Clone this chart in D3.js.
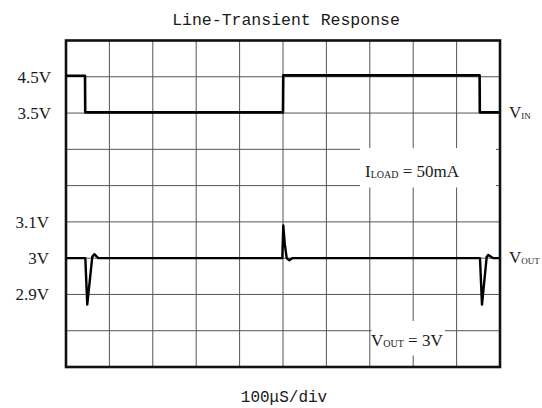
<!DOCTYPE html>
<html>
<head>
<meta charset="utf-8">
<script src="https://cdn.jsdelivr.net/npm/d3@7"></script>
<style>
  html, body { margin: 0; padding: 0; background: #fff; }
  svg { display: block; }
  .serif { font-family: "Liberation Serif", "DejaVu Serif", serif; fill: #1a1a1a; }
  .mono { font-family: "Liberation Mono", "DejaVu Sans Mono", monospace; fill: #1a1a1a; }
</style>
</head>
<body>
<div id="chart"></div>
<script>
// time in microseconds, 100us per division
const timeTicks = [0, 100, 200, 300, 400, 500, 600, 700, 800, 900, 1000];
const rowTicks = [0, 1, 2, 3, 4, 5, 6, 7, 8, 9];

// input voltage trace (V)
const vinTime  = [0, 43.8, 44.3, 500, 500.6, 953, 953.5, 1000];
const vinVolts = [4.53, 4.53, 3.52, 3.52, 4.54, 4.54, 3.52, 3.52];

// output voltage trace (V)
const voutTime  = [0, 44.5, 49, 60.6, 65.2, 74.4, 498.4, 500.7, 504, 508.5, 514.5, 521.4, 953.9, 958.5, 969.4, 973, 984.5, 1000];
const voutVolts = [3, 3, 2.872, 3.004, 3.011, 3, 3, 3.09, 3.04, 3, 2.994, 3, 3, 2.872, 3.004, 3.009, 3, 3];

// tick labels on the left
const vinTicks = [4.5, 3.5];
const vinTickLabels = ["4.5V", "3.5V"];
const voutTicks = [3.1, 3.0, 2.9];
const voutTickLabels = ["3.1V", "3V", "2.9V"];

document.addEventListener('DOMContentLoaded', () => {
  const W = 542, H = 408;
  const margin = {top: 40.5, left: 66, right: 42, bottom: 41};
  const w = W - margin.left - margin.right;
  const h = H - margin.top - margin.bottom;

  const svg = d3.select("#chart")
    .append("svg")
    .attr("width", W)
    .attr("height", H);

  // scales: both traces share the same 9-row grid
  const x = d3.scaleLinear().domain([0, 1000]).range([margin.left, margin.left + w]);
  const row = d3.scaleLinear().domain([0, 9]).range([margin.top, margin.top + h]);
  const yIn = d3.scaleLinear().domain([5.5, -3.5]).range([margin.top, margin.top + h]);
  const yOut = d3.scaleLinear().domain([3.6, 2.7]).range([margin.top, margin.top + h]);

  // grid
  const grid = svg.append("g").attr("stroke", "#555").attr("stroke-width", 1);
  grid.selectAll("line.v")
    .data(timeTicks.slice(1, -1))
    .enter().append("line")
    .attr("class", "v")
    .attr("x1", d => x(d)).attr("x2", d => x(d))
    .attr("y1", margin.top).attr("y2", margin.top + h);
  grid.selectAll("line.h")
    .data(rowTicks.slice(1))
    .enter().append("line")
    .attr("class", "h")
    .attr("x1", margin.left).attr("x2", margin.left + w)
    .attr("y1", d => row(d)).attr("y2", d => row(d));

  // white boxes behind the annotations
  svg.append("rect")
    .attr("x", 360).attr("y", 148)
    .attr("width", 136).attr("height", 39.5)
    .attr("fill", "#fff");
  svg.append("rect")
    .attr("x", 371.5).attr("y", 321)
    .attr("width", 73.5).attr("height", 34.5)
    .attr("fill", "#fff");

  // frame
  svg.append("rect")
    .attr("x", margin.left).attr("y", margin.top)
    .attr("width", w).attr("height", h)
    .attr("fill", "none")
    .attr("stroke", "#111")
    .attr("stroke-width", 2.6);

  // traces
  const vinData = vinTime.map((t, i) => [t, vinVolts[i]]);
  const voutData = voutTime.map((t, i) => [t, voutVolts[i]]);

  const lineIn = d3.line().x(d => x(d[0])).y(d => yIn(d[1]));
  const lineOut = d3.line().x(d => x(d[0])).y(d => yOut(d[1]));

  svg.append("path")
    .datum(vinData)
    .attr("d", lineIn)
    .attr("fill", "none")
    .attr("stroke", "#000")
    .attr("stroke-width", 2.6)
    .attr("stroke-linejoin", "round");
  svg.append("path")
    .datum(voutData)
    .attr("d", lineOut)
    .attr("fill", "none")
    .attr("stroke", "#000")
    .attr("stroke-width", 2.4)
    .attr("stroke-linejoin", "round");

  // left tick labels
  svg.selectAll("text.vin")
    .data(vinTicks)
    .enter().append("text")
    .attr("class", "serif vin")
    .attr("x", 51)
    .attr("y", d => yIn(d))
    .attr("dy", "0.35em")
    .attr("text-anchor", "end")
    .style("font-size", "17px")
    .text((d, i) => vinTickLabels[i]);
  svg.selectAll("text.vout")
    .data(voutTicks)
    .enter().append("text")
    .attr("class", "serif vout")
    .attr("x", 49)
    .attr("y", d => yOut(d))
    .attr("dy", "0.35em")
    .attr("text-anchor", "end")
    .style("font-size", "17px")
    .text((d, i) => voutTickLabels[i]);

  // trace labels with subscripts
  function subLabel(xPos, yPos, main, sub, rest, subSize) {
    const t = svg.append("text")
      .attr("class", "serif")
      .attr("x", xPos)
      .attr("y", yPos)
      .style("font-size", "17px");
    t.append("tspan").text(main);
    t.append("tspan").style("font-size", subSize + "px").attr("dy", 1).text(sub);
    if (rest) t.append("tspan").attr("dy", -1).text(rest);
    return t;
  }
  subLabel(509, yIn(3.5) + 5, "V", "IN", null, 9);
  subLabel(509, yOut(3.0) + 4.5, "V", "OUT", null, 9);
  subLabel(365, 177, "I", "LOAD", " = 50mA", 10);
  subLabel(371, 346, "V", "OUT", " = 3V", 10);

  // title and x label
  svg.append("text")
    .attr("class", "mono")
    .attr("x", 286).attr("y", 25)
    .attr("text-anchor", "middle")
    .style("font-size", "16.5px")
    .text("Line-Transient Response");
  svg.append("text")
    .attr("class", "mono")
    .attr("x", 284).attr("y", 402)
    .attr("text-anchor", "middle")
    .style("font-size", "16px")
    .text("100\u03BCS/div");
});
</script>
</body>
</html>
